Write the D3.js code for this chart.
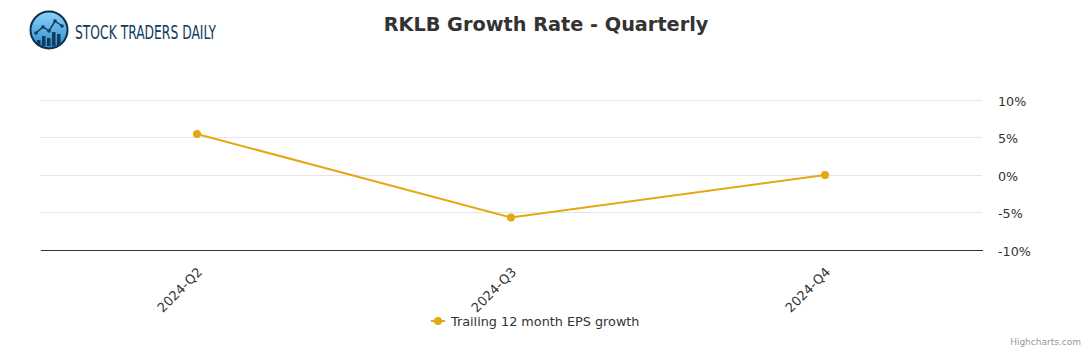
<!DOCTYPE html>
<html><head><meta charset="utf-8">
<script src="https://cdn.jsdelivr.net/npm/d3@7"></script>
<style>body{margin:0;background:#fff;font-family:"DejaVu Sans",sans-serif}</style>
</head><body>
<svg id="c" width="1091" height="350"></svg>
<script>
const categories = ["2024-Q2","2024-Q3","2024-Q4"];
const epsGrowth = [5.47, -5.67, 0.0];
const yTicks = [-10,-5,0,5,10];
const seriesName = "Trailing 12 month EPS growth";
const titleText = "RKLB Growth Rate - Quarterly";

(function(){
const svg = d3.select("#c");
const color = "#e3a812";
const pLeft = 40, pRight = 982, pTop = 100, pBottom = 250;

const x = d3.scaleBand().domain(categories).range([pLeft, pRight]);
const y = d3.scaleLinear().domain([-10, 10]).range([pBottom, pTop]);

// gridlines
svg.append("g").selectAll("line").data(yTicks).join("line")
  .attr("x1", pLeft).attr("x2", pRight)
  .attr("y1", d => y(d)).attr("y2", d => y(d))
  .attr("stroke", "#e6e6e6").attr("stroke-width", 1).attr("shape-rendering","crispEdges");

// y axis labels on right
const yAxis = d3.axisRight(y).tickValues(yTicks).tickSize(0).tickPadding(0).tickFormat(d => d + "%");
const yg = svg.append("g").attr("transform", `translate(998,1)`).call(yAxis);
yg.select(".domain").remove();
yg.selectAll("text").attr("font-size", 12.7).attr("fill", "#333").attr("font-family","DejaVu Sans").attr("dy","0.32em");

// x axis
const xAxis = d3.axisBottom(x).tickSize(0).tickPadding(0);
const xg = svg.append("g").attr("transform", `translate(0,${pBottom})`).call(xAxis);
xg.select(".domain").attr("stroke", "#333").attr("stroke-width",1).attr("shape-rendering","crispEdges");
xg.selectAll("text").attr("font-size", 13).attr("fill", "#333").attr("font-family","DejaVu Sans")
  .attr("text-anchor","end").attr("dy", null).attr("y", 0)
  .attr("transform", "translate(6,23) rotate(-45)");

// line
const line = d3.line().x((d,i) => x(categories[i]) + x.bandwidth()/2).y(d => y(d));
svg.append("path").datum(epsGrowth).attr("d", line)
  .attr("fill","none").attr("stroke", color).attr("stroke-width", 2);
svg.append("g").selectAll("circle").data(epsGrowth).join("circle")
  .attr("cx", (d,i) => x(categories[i]) + x.bandwidth()/2).attr("cy", d => y(d))
  .attr("r", 4).attr("fill", color);

// title
svg.append("text").attr("x", 546).attr("y", 31).attr("text-anchor","middle")
  .attr("font-size", 19.3).attr("font-weight","bold").attr("fill","#333").text(titleText);

// legend
const lg = svg.append("g").attr("transform","translate(431,321)");
lg.append("line").attr("x1",0).attr("x2",14).attr("y1",0).attr("y2",0).attr("stroke",color).attr("stroke-width",2);
lg.append("circle").attr("cx",7).attr("cy",0).attr("r",4).attr("fill",color);
lg.append("text").attr("x",20).attr("y",5).attr("font-size",12.8).attr("fill","#333").text(seriesName);

// credits
svg.append("text").attr("x",1081).attr("y",345).attr("text-anchor","end")
  .attr("font-size",9).attr("fill","#999").text("Highcharts.com");

// logo
const defs = svg.append("defs");
const grad = defs.append("linearGradient").attr("id","lg1").attr("x1","0").attr("y1","0").attr("x2","0").attr("y2","1");
grad.append("stop").attr("offset","0").attr("stop-color","#8fd3f7");
grad.append("stop").attr("offset","1").attr("stop-color","#2a8ad0");
const logo = svg.append("g").attr("transform","translate(49,30)");
logo.append("circle").attr("r",18.5).attr("fill","url(#lg1)").attr("stroke","#0d2f4a").attr("stroke-width",2);
const bars = [[-12,6],[-7,10],[-2,8],[3,14],[8,12]];
logo.selectAll("rect").data(bars).join("rect")
  .attr("x", d => d[0]).attr("y", d => 16 - d[1]).attr("width",3.5).attr("height", d => d[1])
  .attr("fill","#123a5c");
logo.append("polyline").attr("points","-13,3 -6,-3 0,1 6,-9 13,-4")
  .attr("fill","none").attr("stroke","#123a5c").attr("stroke-width",1.5);
logo.selectAll("circle.pt").data([[-13,3],[-6,-3],[0,1],[6,-9],[13,-4]]).join("circle")
  .attr("class","pt").attr("cx",d=>d[0]).attr("cy",d=>d[1]).attr("r",1.8).attr("fill","#123a5c");
svg.append("text").attr("x",75).attr("y",39).attr("font-size",19)
  .attr("font-family","'DejaVu Sans Condensed','Liberation Sans Narrow',sans-serif")
  .attr("textLength",141).attr("lengthAdjust","spacingAndGlyphs")
  .attr("fill","#0f3b5c").text("STOCK TRADERS DAILY");
})();
</script>
</body></html>
